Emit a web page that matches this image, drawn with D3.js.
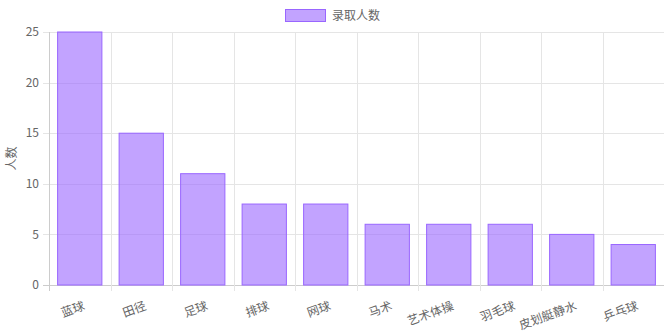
<!DOCTYPE html>
<html lang="zh">
<head>
    <meta charset="UTF-8">
    <title>录取人数</title>
    <script src="https://d3js.org/d3.v7.min.js"></script>
    <style>
        body { margin: 0; background: #fff; }
        svg { display: block; font-family: "Noto Sans CJK SC", "Liberation Sans", sans-serif; }
        .grid line { stroke: #e5e5e5; }
        .tick-text { fill: #666; font-size: 12px; }
    </style>
</head>
<body>
    <svg id="chart" width="665" height="332"></svg>
    <script>
        // Data
        const categories = ["蓝球", "田径", "足球", "排球", "网球", "马术", "艺术体操", "羽毛球", "皮划艇静水", "乒乓球"];
        const values = [25, 15, 11, 8, 8, 6, 6, 6, 5, 4];
        const yTicks = [0, 5, 10, 15, 20, 25];
        const seriesName = "录取人数";
        const yTitle = "人数";

        const svg = d3.select("#chart");
        const margin = { top: 32, right: 1, bottom: 47, left: 49 };
        const width = 665, height = 332;

        const x = d3.scaleBand()
            .domain(categories)
            .range([margin.left, width - margin.right]);

        const y = d3.scaleLinear()
            .domain([0, 25])
            .range([height - margin.bottom, margin.top]);

        // Gridlines
        const grid = svg.append("g").attr("class", "grid");
        grid.selectAll(".hl")
            .data(yTicks)
            .enter().append("line")
            .attr("x1", margin.left - 6)
            .attr("x2", width - margin.right)
            .attr("y1", d => Math.round(y(d)) + 0.5)
            .attr("y2", d => Math.round(y(d)) + 0.5)
            .style("stroke", d => d === 0 ? "#ccc" : "#e5e5e5");

        grid.selectAll(".vl")
            .data(categories)
            .enter().append("line")
            .attr("x1", d => Math.round(x(d)) + 0.5)
            .attr("x2", d => Math.round(x(d)) + 0.5)
            .attr("y1", margin.top)
            .attr("y2", height - margin.bottom + 6)
            .style("stroke", (d, i) => i === 0 ? "#ccc" : "#e5e5e5");

        // Bars
        const barW = x.bandwidth() * 0.72;
        svg.selectAll(".bar")
            .data(values)
            .enter().append("rect")
            .attr("class", "bar")
            .attr("x", (d, i) => x(categories[i]) + (x.bandwidth() - barW) / 2)
            .attr("y", d => y(d))
            .attr("width", barW)
            .attr("height", d => y(0) - y(d))
            .attr("fill", "rgba(153, 102, 255, 0.6)")
            .attr("stroke", "rgb(153, 102, 255)")
            .attr("stroke-width", 1);

        // Y tick labels
        svg.selectAll(".ylab")
            .data(yTicks)
            .enter().append("text")
            .attr("class", "tick-text")
            .attr("x", margin.left - 10)
            .attr("y", d => y(d))
            .attr("dy", "0.35em")
            .attr("text-anchor", "end")
            .text(d => d);

        // X tick labels, rotated
        svg.selectAll(".xlab")
            .data(categories)
            .enter().append("text")
            .attr("class", "tick-text")
            .attr("transform", d => `translate(${x(d) + x.bandwidth() / 2 + 2},${height - margin.bottom + 14}) rotate(-20)`)
            .attr("text-anchor", "end")
            .attr("dy", "0.9em")
            .text(d => d);

        // Y axis title
        svg.append("text")
            .attr("class", "tick-text")
            .attr("transform", `translate(16,${(margin.top + height - margin.bottom) / 2}) rotate(-90)`)
            .attr("text-anchor", "middle")
            .text(yTitle);

        // Legend
        const legend = svg.append("g").attr("transform", "translate(285,9)");
        legend.append("rect")
            .attr("x", 0.5).attr("y", 0.5)
            .attr("width", 40).attr("height", 12)
            .attr("fill", "rgba(153, 102, 255, 0.6)")
            .attr("stroke", "rgb(153, 102, 255)");
        legend.append("text")
            .attr("class", "tick-text")
            .attr("x", 47)
            .attr("y", 7)
            .attr("dy", "0.35em")
            .text(seriesName);
    </script>
</body>
</html>
